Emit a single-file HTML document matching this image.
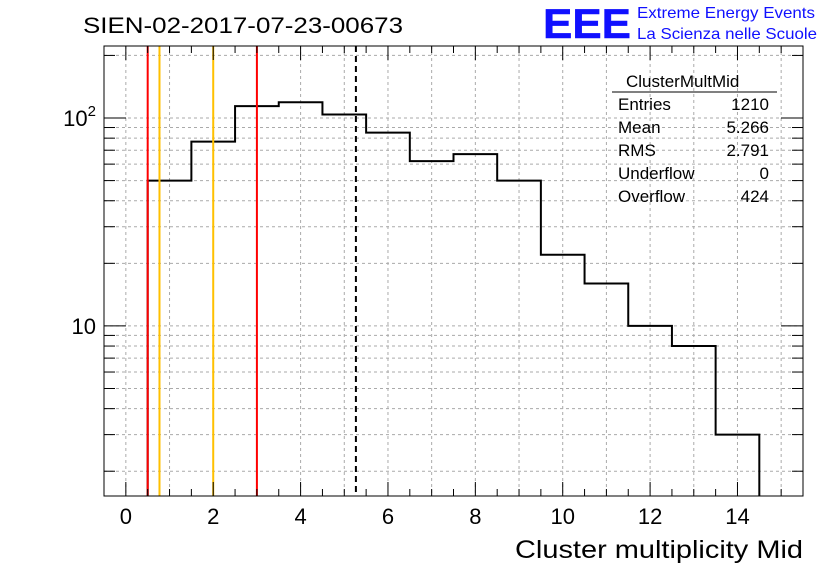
<!DOCTYPE html>
<html><head><meta charset="utf-8"><style>
body{margin:0;background:#fff;}
svg text{font-family:"Liberation Sans",sans-serif;}
</style></head><body>
<svg id="c" width="836" height="572" xmlns="http://www.w3.org/2000/svg">
<rect width="836" height="572" fill="#fff"/>
<text x="83" y="33" font-size="22" textLength="320" lengthAdjust="spacingAndGlyphs">SIEN-02-2017-07-23-00673</text>
<text x="543" y="38" font-size="42" font-weight="bold" fill="#1010ff" stroke="#1010ff" stroke-width="0.5" textLength="88" lengthAdjust="spacingAndGlyphs">EEE</text>
<text x="637" y="18" font-size="16" fill="#1010ff" textLength="178" lengthAdjust="spacingAndGlyphs">Extreme Energy Events</text>
<text x="637" y="39" font-size="16" fill="#1010ff" textLength="180" lengthAdjust="spacingAndGlyphs">La Scienza nelle Scuole</text>
<g id="grid"></g>
<g id="marks"></g>
<g id="axes"></g>
<rect x="104" y="46" width="699" height="450" fill="none" stroke="#000" stroke-width="1"/>
<g font-size="17">
<text x="626" y="87">ClusterMultMid</text>
<line x1="612" y1="92" x2="777" y2="92" stroke="#000"/>
<text x="618" y="110">Entries</text><text x="769" y="110" text-anchor="end">1210</text>
<text x="618" y="133">Mean</text><text x="769" y="133" text-anchor="end">5.266</text>
<text x="618" y="156">RMS</text><text x="769" y="156" text-anchor="end">2.791</text>
<text x="618" y="179">Underflow</text><text x="769" y="179" text-anchor="end">0</text>
<text x="618" y="202">Overflow</text><text x="769" y="202" text-anchor="end">424</text>
</g>
<text x="803" y="558" font-size="25" text-anchor="end" textLength="288" lengthAdjust="spacingAndGlyphs">Cluster multiplicity Mid</text>
</svg>
<script>
const binCenters=[1,2,3,4,5,6,7,8,9,10,11,12,13,14];
const counts=[50,77,114,119,104,85,62,67,50,22,16,10,8,3];
const xTicks=[0,2,4,6,8,10,12,14];
const redLines=[0.5,3.0];
const orangeLines=[0.77,2.0];
const meanValue=5.266;
const X0=104,X1=803,Y0=46,Y1=496,xmin=-0.5,xmax=15.5,ymin=Math.log10(1.52),ymax=Math.log10(222);
const sx=v=>X0+(v-xmin)/(xmax-xmin)*(X1-X0);
const sy=v=>Y1-(Math.log10(v)-ymin)/(ymax-ymin)*(Y1-Y0);
const NS="http://www.w3.org/2000/svg";
function mk(p,t,a){const e=document.createElementNS(NS,t);for(const k in a)e.setAttribute(k,a[k]);p.appendChild(e);return e;}
const grid=document.getElementById('grid'),marks=document.getElementById('marks'),axes=document.getElementById('axes');
for(let v=0;v<=15;v++){const l=mk(grid,'line',{x1:sx(v),x2:sx(v),y1:Y0,y2:Y1,stroke:'#aaa','stroke-dasharray':'3,3'});

}
for(let d=1;d<=100;d*=10){for(let m=1;m<=9;m++){const v=d*m;if(v<1.52||v>222)continue;const y=sy(v);
const g=mk(grid,'line',{x1:X0,x2:X1,y1:y,y2:y,stroke:'#aaa','stroke-dasharray':'3,3'});


const len=m===1?22:11;
mk(axes,'line',{x1:X0,x2:X0+len,y1:y,y2:y,stroke:'#000'});
mk(axes,'line',{x1:X1,x2:X1-len,y1:y,y2:y,stroke:'#000'});
if(m===1&&v>=10){const t=mk(axes,'text',{x:X0-8,y:y+8,'font-size':22,'text-anchor':'end'});t.textContent=v===10?'10':'';
if(v===100){t.innerHTML='10<tspan dy="-10" font-size="15">2</tspan>';}

}}}
for(let v=-0.5;v<=15.5;v+=0.5){const x=sx(v);const len=(v%2===0)?14:7;
mk(axes,'line',{x1:x,x2:x,y1:Y1,y2:Y1-len,stroke:'#000'});
mk(axes,'line',{x1:x,x2:x,y1:Y0,y2:Y0+len,stroke:'#000'});}
xTicks.forEach(v=>{const t=mk(axes,'text',{x:sx(v),y:524,'font-size':22,'text-anchor':'middle'});t.textContent=v;

});
let d=`M${sx(binCenters[0]-0.5)},${Y1}`;
binCenters.forEach((c,i)=>{const y=sy(counts[i]);d+=` L${sx(c-0.5)},${y} L${sx(c+0.5)},${y}`;});
d+=` L${sx(binCenters[binCenters.length-1]+0.5)},${Y1}`;
const h=mk(marks,'path',{d:d,fill:'none',stroke:'#000','stroke-width':2});


redLines.forEach(v=>{const l=mk(marks,'line',{x1:sx(v),x2:sx(v),y1:Y0,y2:Y1,stroke:'#ff0000','stroke-width':2});

});
orangeLines.forEach(v=>{const l=mk(marks,'line',{x1:sx(v),x2:sx(v),y1:Y0,y2:Y1,stroke:'#ffc000','stroke-width':2});

});
const ml=mk(marks,'line',{x1:sx(meanValue),x2:sx(meanValue),y1:Y0,y2:Y1,stroke:'#000','stroke-width':2,'stroke-dasharray':'6,4'});


</script>
</body></html>
